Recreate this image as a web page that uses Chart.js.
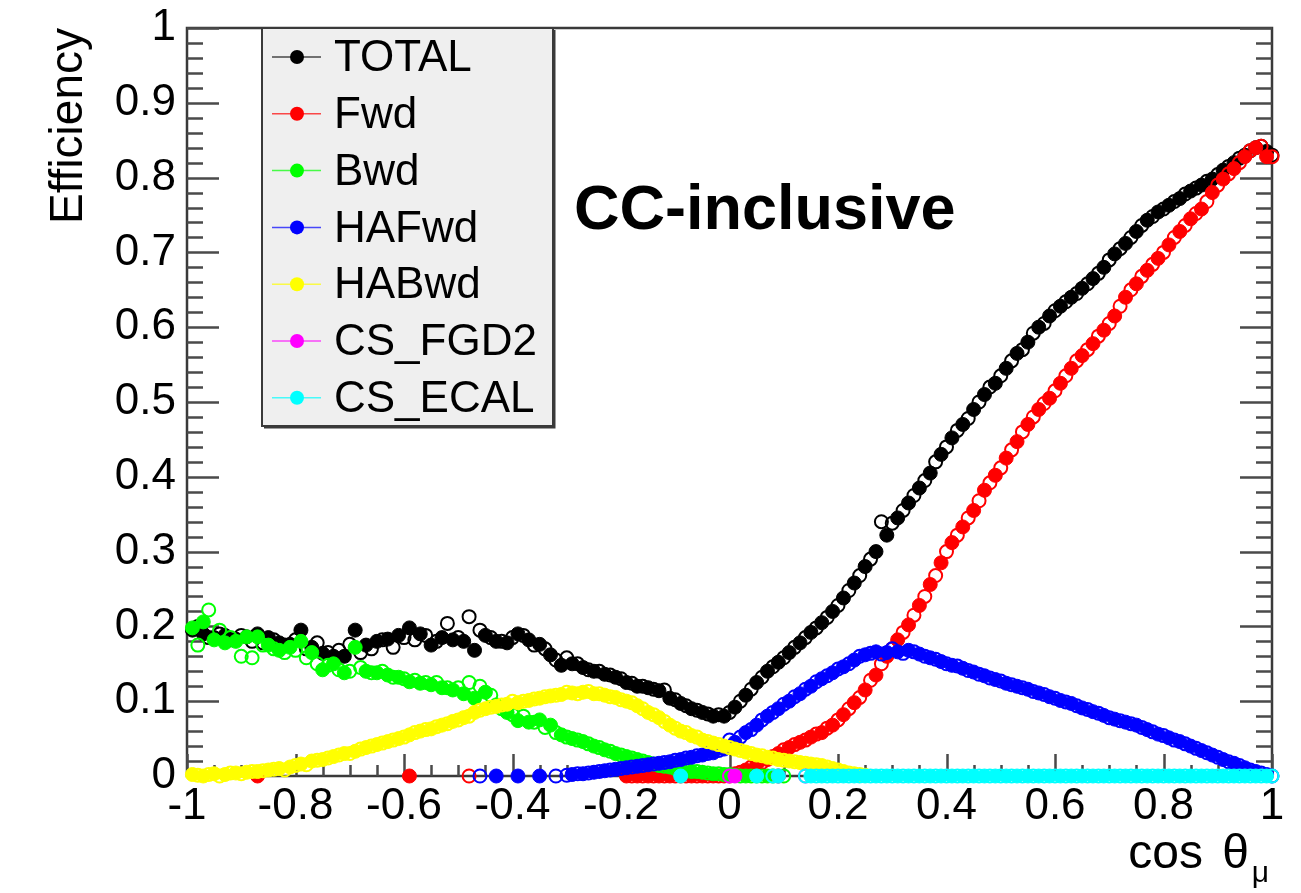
<!DOCTYPE html>
<html>
<head>
<meta charset="utf-8">
<title>CC-inclusive efficiency</title>
<script src="https://cdn.jsdelivr.net/npm/chart.js@4.4.0/dist/chart.umd.min.js"></script>
<style>
    html, body { margin: 0; padding: 0; background: #ffffff; }
    #wrap { position: relative; width: 1301px; height: 893px; }
</style>
</head>
<body>
<div id="wrap"><canvas id="graficoEficiencia" width="1301" height="893"></canvas></div>
<script>
// bin centres of the two samples (filled markers / open markers)
const binsFilled = [
    -0.99, -0.97, -0.95, -0.93, -0.91, -0.89, -0.87, -0.85, -0.83, -0.81,
    -0.79, -0.77, -0.75, -0.73, -0.71, -0.69, -0.67, -0.65, -0.63, -0.61,
    -0.59, -0.57, -0.55, -0.53, -0.51, -0.49, -0.47, -0.45, -0.43, -0.41,
    -0.39, -0.37, -0.35, -0.33, -0.31, -0.29, -0.27, -0.25, -0.23, -0.21,
    -0.19, -0.17, -0.15, -0.13, -0.11, -0.09, -0.07, -0.05, -0.03, -0.01,
    0.01, 0.03, 0.05, 0.07, 0.09, 0.11, 0.13, 0.15, 0.17, 0.19,
    0.21, 0.23, 0.25, 0.27, 0.29, 0.31, 0.33, 0.35, 0.37, 0.39,
    0.41, 0.43, 0.45, 0.47, 0.49, 0.51, 0.53, 0.55, 0.57, 0.59,
    0.61, 0.63, 0.65, 0.67, 0.69, 0.71, 0.73, 0.75, 0.77, 0.79,
    0.81, 0.83, 0.85, 0.87, 0.89, 0.91, 0.93, 0.95, 0.97, 0.99
];
const binsOpen = [
    -0.98, -0.96, -0.94, -0.92, -0.90, -0.88, -0.86, -0.84, -0.82, -0.80,
    -0.78, -0.76, -0.74, -0.72, -0.70, -0.68, -0.66, -0.64, -0.62, -0.60,
    -0.58, -0.56, -0.54, -0.52, -0.50, -0.48, -0.46, -0.44, -0.42, -0.40,
    -0.38, -0.36, -0.34, -0.32, -0.30, -0.28, -0.26, -0.24, -0.22, -0.20,
    -0.18, -0.16, -0.14, -0.12, -0.10, -0.08, -0.06, -0.04, -0.02, 0.00,
    0.02, 0.04, 0.06, 0.08, 0.10, 0.12, 0.14, 0.16, 0.18, 0.20,
    0.22, 0.24, 0.26, 0.28, 0.30, 0.32, 0.34, 0.36, 0.38, 0.40,
    0.42, 0.44, 0.46, 0.48, 0.50, 0.52, 0.54, 0.56, 0.58, 0.60,
    0.62, 0.64, 0.66, 0.68, 0.70, 0.72, 0.74, 0.76, 0.78, 0.80,
    0.82, 0.84, 0.86, 0.88, 0.90, 0.92, 0.94, 0.96, 0.98, 1.00
];

const seriesNames = ['TOTAL', 'Fwd', 'Bwd', 'HAFwd', 'HABwd', 'CS_FGD2', 'CS_ECAL'];
const seriesColors = ['#000000', '#ff0000', '#00ff00', '#0000ff', '#ffff00', '#ff00ff', '#00ffff'];

const xTickValues = [-1, -0.8, -0.6, -0.4, -0.2, 0, 0.2, 0.4, 0.6, 0.8, 1];
const yTickValues = [0, 0.1, 0.2, 0.3, 0.4, 0.5, 0.6, 0.7, 0.8, 0.9, 1];

const totalFilled = [
    0.195, 0.190, 0.185, 0.188, 0.183, 0.186, 0.190, 0.185, 0.178, 0.176,
    0.195, 0.172, 0.164, 0.160, 0.160, 0.195, 0.175, 0.180, 0.183, 0.188,
    0.198, 0.190, 0.175, 0.185, 0.182, 0.180, 0.168, 0.188, 0.180, 0.178,
    0.190, 0.182, 0.176, 0.162, 0.148, 0.150, 0.145, 0.140, 0.136, 0.132,
    0.125, 0.120, 0.118, 0.114, 0.104, 0.097, 0.090, 0.085, 0.080, 0.080,
    0.092, 0.108, 0.125, 0.140, 0.152, 0.165, 0.178, 0.192, 0.205, 0.220,
    0.238, 0.258, 0.280, 0.300, 0.322, 0.345, 0.365, 0.385, 0.405, 0.430,
    0.452, 0.470, 0.490, 0.510, 0.525, 0.545, 0.565, 0.580, 0.600, 0.615,
    0.628, 0.640, 0.652, 0.665, 0.680, 0.698, 0.712, 0.728, 0.743, 0.754,
    0.763, 0.772, 0.782, 0.790, 0.798, 0.810, 0.820, 0.830, 0.840, 0.835
];
const totalOpen = [
    0.200, 0.185, 0.190, 0.182, 0.188, 0.180, 0.178, 0.182, 0.175, 0.182,
    0.170, 0.178, 0.165, 0.168, 0.176, 0.165, 0.170, 0.182, 0.172, 0.185,
    0.182, 0.188, 0.180, 0.204, 0.185, 0.213, 0.195, 0.185, 0.180, 0.185,
    0.188, 0.175, 0.170, 0.155, 0.158, 0.150, 0.142, 0.140, 0.135, 0.130,
    0.124, 0.120, 0.116, 0.115, 0.102, 0.094, 0.088, 0.083, 0.082, 0.085,
    0.100, 0.116, 0.132, 0.146, 0.158, 0.172, 0.185, 0.198, 0.212, 0.228,
    0.248, 0.268, 0.290, 0.340, 0.338, 0.355, 0.375, 0.395, 0.420, 0.440,
    0.462, 0.478, 0.500, 0.520, 0.535, 0.555, 0.570, 0.592, 0.605, 0.622,
    0.634, 0.645, 0.658, 0.672, 0.690, 0.705, 0.720, 0.736, 0.748, 0.758,
    0.768, 0.778, 0.786, 0.795, 0.804, 0.815, 0.826, 0.836, 0.842, 0.830
];

const fwdFilled = [
    null, null, null, null, null, null, 0, null, null, null,
    null, null, null, null, null, null, null, null, null, null,
    0, null, null, null, null, null, null, null, null, null,
    null, null, null, null, null, null, null, null, null, null,
    0, 0, 0, 0, 0, 0, 0, 0, 0, 0,
    0.003, 0.008, 0.015, 0.022, 0.030, 0.038, 0.045, 0.052, 0.058, 0.068,
    0.082, 0.098, 0.115, 0.135, 0.160, 0.182, 0.202, 0.228, 0.256, 0.285,
    0.312, 0.333, 0.355, 0.382, 0.402, 0.425, 0.447, 0.470, 0.490, 0.505,
    0.525, 0.545, 0.562, 0.578, 0.596, 0.615, 0.640, 0.658, 0.676, 0.692,
    0.710, 0.728, 0.745, 0.758, 0.780, 0.798, 0.812, 0.828, 0.840, 0.828
];
const fwdOpen = [
    null, null, null, null, null, null, null, null, null, null,
    null, null, null, null, null, null, null, null, null, null,
    null, null, null, null, null, 0, null, null, null, null,
    null, null, null, null, null, null, null, null, null, null,
    0, 0, 0, 0, 0, 0, 0, 0, 0, 0,
    0.005, 0.012, 0.018, 0.026, 0.035, 0.042, 0.048, 0.056, 0.064, 0.075,
    0.090, 0.105, 0.128, 0.150, 0.170, 0.192, 0.215, 0.240, 0.268, 0.300,
    0.322, 0.345, 0.368, 0.392, 0.412, 0.436, 0.460, 0.480, 0.498, 0.515,
    0.535, 0.555, 0.570, 0.588, 0.605, 0.628, 0.650, 0.668, 0.684, 0.700,
    0.720, 0.736, 0.752, 0.768, 0.790, 0.805, 0.820, 0.836, 0.842, 0.828
];

const bwdFilled = [
    0.198, 0.206, 0.182, 0.178, 0.180, 0.186, 0.186, 0.175, 0.168, 0.172,
    0.180, 0.165, 0.142, 0.150, 0.138, 0.172, 0.140, 0.138, 0.135, 0.132,
    0.126, 0.124, 0.122, 0.118, 0.115, 0.110, 0.104, 0.112, 0.095, 0.085,
    0.074, 0.072, 0.075, 0.068, 0.055, 0.050, 0.046, 0.040, 0.035, 0.030,
    0.026, 0.022, 0.018, 0.014, 0.012, 0.009, 0.006, 0.005, 0.003, 0.002,
    0.001, 0, 0, 0, 0, null, null, null, null, null,
    null, null, null, null, null, null, null, null, null, null,
    null, null, null, null, null, null, null, null, null, null,
    null, null, null, null, null, null, null, null, null, null,
    null, null, null, null, null, null, null, null, null, null
];
const bwdOpen = [
    0.175, 0.222, 0.195, 0.185, 0.160, 0.158, 0.175, 0.170, 0.165, 0.168,
    0.158, 0.150, 0.148, 0.142, 0.140, 0.145, 0.138, 0.140, 0.132, 0.130,
    0.128, 0.125, 0.125, 0.118, 0.118, 0.125, 0.120, 0.108, 0.090, 0.082,
    0.080, 0.072, 0.065, 0.058, 0.052, 0.048, 0.043, 0.038, 0.033, 0.028,
    0.024, 0.020, 0.016, 0.013, 0.010, 0.008, 0.006, 0.004, 0.003, 0.002,
    0, 0, 0, 0, 0, null, null, null, null, null,
    null, null, null, null, null, null, null, null, null, null,
    null, null, null, null, null, null, null, null, null, null,
    null, null, null, null, null, null, null, null, null, null,
    null, null, null, null, null, null, null, null, null, null
];

const haFwdFilled = [
    null, null, null, null, null, null, null, null, null, null,
    null, null, null, null, null, null, null, null, null, null,
    null, null, null, null, null, null, null, null, 0, null,
    0, null, 0, null, null, 0.002, 0.003, 0.005, 0.007, 0.009,
    0.011, 0.013, 0.015, 0.017, 0.019, 0.022, 0.025, 0.028, 0.031, 0.036,
    0.045, 0.058, 0.068, 0.080, 0.090, 0.100, 0.110, 0.120, 0.130, 0.138,
    0.146, 0.155, 0.162, 0.166, 0.165, 0.166, 0.168, 0.163, 0.158, 0.153,
    0.148, 0.144, 0.139, 0.134, 0.129, 0.124, 0.120, 0.116, 0.111, 0.106,
    0.101, 0.097, 0.091, 0.086, 0.081, 0.076, 0.072, 0.068, 0.062, 0.056,
    0.051, 0.046, 0.040, 0.034, 0.028, 0.022, 0.017, 0.011, 0.006, 0.002
];
const haFwdOpen = [
    null, null, null, null, null, null, null, null, null, null,
    null, null, null, null, null, null, null, null, null, null,
    null, null, null, null, null, null, 0, null, null, null,
    null, null, null, 0, 0.001, 0.003, 0.004, 0.006, 0.008, 0.010,
    0.012, 0.014, 0.016, 0.018, 0.021, 0.024, 0.027, 0.030, 0.034, 0.048,
    0.052, 0.062, 0.075, 0.085, 0.096, 0.106, 0.116, 0.126, 0.134, 0.143,
    0.150, 0.160, 0.164, 0.163, 0.170, 0.164, 0.166, 0.160, 0.156, 0.150,
    0.147, 0.141, 0.136, 0.131, 0.127, 0.122, 0.118, 0.113, 0.109, 0.104,
    0.099, 0.094, 0.089, 0.084, 0.078, 0.074, 0.070, 0.065, 0.059, 0.054,
    0.048, 0.043, 0.037, 0.031, 0.025, 0.019, 0.014, 0.008, 0.004, 0.000
];

const haBwdFilled = [
    0.002, 0.000, 0.003, 0.002, 0.004, 0.005, 0.006, 0.008, 0.010, 0.012,
    0.016, 0.020, 0.022, 0.026, 0.030, 0.033, 0.038, 0.042, 0.046, 0.050,
    0.055, 0.060, 0.063, 0.068, 0.073, 0.078, 0.085, 0.090, 0.093, 0.096,
    0.098, 0.101, 0.104, 0.107, 0.109, 0.111, 0.112, 0.110, 0.108, 0.105,
    0.100, 0.094, 0.085, 0.078, 0.068, 0.060, 0.054, 0.048, 0.044, 0.040,
    0.036, 0.032, 0.028, 0.025, 0.022, 0.020, 0.018, 0.016, 0.014, 0.010,
    0.006, 0.003, 0.001, null, null, null, null, null, null, null,
    null, null, null, null, null, null, null, null, null, null,
    null, null, null, null, null, null, null, null, null, null,
    null, null, null, null, null, null, null, null, null, null
];
const haBwdOpen = [
    0.001, 0.002, 0.000, 0.004, 0.003, 0.006, 0.007, 0.009, 0.008, 0.014,
    0.015, 0.021, 0.024, 0.028, 0.030, 0.036, 0.040, 0.044, 0.048, 0.052,
    0.058, 0.062, 0.066, 0.070, 0.075, 0.080, 0.088, 0.092, 0.095, 0.100,
    0.100, 0.103, 0.106, 0.108, 0.112, 0.110, 0.113, 0.110, 0.106, 0.102,
    0.098, 0.090, 0.082, 0.073, 0.064, 0.058, 0.052, 0.046, 0.042, 0.038,
    0.034, 0.030, 0.027, 0.024, 0.021, 0.019, 0.017, 0.015, 0.012, 0.008,
    0.004, 0.002, null, null, null, null, null, null, null, null,
    null, null, null, null, null, null, null, null, null, null,
    null, null, null, null, null, null, null, null, null, null,
    null, null, null, null, null, null, null, null, null, null
];

const csFgd2Filled = [
    null, null, null, null, null, null, null, null, null, null,
    null, null, null, null, null, null, null, null, null, null,
    null, null, null, null, null, null, null, null, null, null,
    null, null, null, null, null, null, null, null, null, null,
    null, null, null, null, null, null, null, null, null, null,
    0, null, null, null, 0, null, null, null, null, null,
    null, null, null, null, null, null, null, null, null, null,
    null, null, null, null, null, null, null, null, null, null,
    null, null, null, null, null, null, null, null, null, null,
    null, null, null, null, null, null, null, null, null, null
];
const csFgd2Open = [
    null, null, null, null, null, null, null, null, null, null,
    null, null, null, null, null, null, null, null, null, null,
    null, null, null, null, null, null, null, null, null, null,
    null, null, null, null, null, null, null, null, null, null,
    null, null, null, null, null, null, null, null, null, 0,
    null, null, null, null, null, null, 0, null, null, null,
    null, null, null, null, null, null, null, null, null, null,
    null, null, null, null, null, null, null, null, null, null,
    null, null, null, null, null, null, null, null, null, null,
    null, null, null, null, null, null, null, null, null, null
];

const csEcalFilled = [
    null, null, null, null, null, null, null, null, null, null,
    null, null, null, null, null, null, null, null, null, null,
    null, null, null, null, null, null, null, null, null, null,
    null, null, null, null, null, null, null, null, null, null,
    null, null, null, null, null, 0, null, null, null, null,
    null, null, 0, null, 0, null, null, 0, 0, 0,
    0, 0, 0, 0, 0, 0, 0, 0, 0, 0,
    0, 0, 0, 0, 0, 0, 0, 0, 0, 0,
    0, 0, 0, 0, 0, 0, 0, 0, 0, 0,
    0, 0, 0, 0, 0, 0, 0, 0, 0, 0
];
const csEcalOpen = [
    null, null, null, null, null, null, null, null, null, null,
    null, null, null, null, null, null, null, null, null, null,
    null, null, null, null, null, null, null, null, null, null,
    null, null, null, null, null, null, null, null, null, null,
    null, null, null, null, null, null, null, null, null, null,
    null, null, null, 0, null, null, 0, 0, 0, 0,
    0, 0, 0, 0, 0, 0, 0, 0, 0, 0,
    0, 0, 0, 0, 0, 0, 0, 0, 0, 0,
    0, 0, 0, 0, 0, 0, 0, 0, 0, 0,
    0, 0, 0, 0, 0, 0, 0, 0, 0, 0
];

const filledSeries = [totalFilled, fwdFilled, bwdFilled, haFwdFilled, haBwdFilled, csFgd2Filled, csEcalFilled];
const openSeries = [totalOpen, fwdOpen, bwdOpen, haFwdOpen, haBwdOpen, csFgd2Open, csEcalOpen];

const fonte = '"Liberation Sans", Arial, Helvetica, sans-serif';
const raioMarcador = 7;

function pontos(bins, valores) {
    return valores.map(function (v, i) { return { x: bins[i], y: v }; });
}

function formataTick(v) {
    return String(+Number(v).toFixed(2));
}

// datasets: filled sample then open sample for every selection
var datasets = [];
for (var k = 0; k < seriesNames.length; k++) {
    datasets.push({
        label: seriesNames[k],
        data: pontos(binsFilled, filledSeries[k]),
        pointRadius: raioMarcador,
        pointHoverRadius: raioMarcador,
        pointBorderWidth: 1,
        pointBackgroundColor: seriesColors[k],
        pointBorderColor: seriesColors[k],
        borderColor: seriesColors[k],
        backgroundColor: seriesColors[k],
        showLine: false,
        clip: false,
        order: 100 - 2 * k
    });
    datasets.push({
        label: seriesNames[k] + ' (open)',
        data: pontos(binsOpen, openSeries[k]),
        pointRadius: raioMarcador - 0.5,
        pointHoverRadius: raioMarcador - 0.5,
        pointBorderWidth: 2,
        pointBackgroundColor: 'rgba(0,0,0,0)',
        pointBorderColor: seriesColors[k],
        borderColor: seriesColors[k],
        backgroundColor: 'rgba(0,0,0,0)',
        showLine: false,
        clip: false,
        order: 99 - 2 * k
    });
}

// ROOT-like frame with inward ticks, drawn under the markers
const molduraPlugin = {
    id: 'moldura',
    beforeDatasetsDraw(chart) {
        const ctx = chart.ctx;
        const area = chart.chartArea;
        const sx = chart.scales.x;
        const sy = chart.scales.y;
        ctx.save();
        ctx.strokeStyle = '#3a3a3a';
        ctx.lineWidth = 2.5;
        ctx.strokeRect(area.left, area.top, area.right - area.left, area.bottom - area.top);

        ctx.strokeStyle = '#4a4a4a';
        ctx.lineWidth = 2.5;
        ctx.beginPath();
        for (var i = 0; i <= 50; i++) {
            var py = Math.round(sy.getPixelForValue(i / 50)) + 0.5;
            var len = (i % 5 === 0) ? 32 : 16;
            ctx.moveTo(area.left, py);
            ctx.lineTo(area.left + len, py);
            ctx.moveTo(area.right, py);
            ctx.lineTo(area.right - len, py);
        }
        for (var j = 0; j <= 40; j++) {
            var px = Math.round(sx.getPixelForValue(-1 + j * 0.05)) + 0.5;
            var lenx = (j % 4 === 0) ? 22 : 11;
            ctx.moveTo(px, area.bottom);
            ctx.lineTo(px, area.bottom - lenx);
        }
        ctx.stroke();
        ctx.restore();
    },
    afterDraw(chart) {
        const ctx = chart.ctx;
        ctx.save();

        // axis titles
        ctx.fillStyle = '#000';
        ctx.font = '46px ' + fonte;
        ctx.save();
        ctx.translate(82, 28);
        ctx.rotate(-Math.PI / 2);
        ctx.textAlign = 'right';
        ctx.textBaseline = 'alphabetic';
        ctx.fillText('Efficiency', 0, 0);
        ctx.restore();

        ctx.textAlign = 'right';
        ctx.textBaseline = 'alphabetic';
        ctx.font = '30px ' + fonte;
        ctx.fillText('\u03bc', 1269, 882);
        ctx.font = '48px ' + fonte;
        ctx.fillText('\u03b8', 1249, 868);
        ctx.fillText('cos', 1203, 868);

        // label inside the frame
        ctx.textAlign = 'left';
        ctx.font = 'bold 63px ' + fonte;
        ctx.fillText('CC-inclusive', 574, 229);

        // legend box
        var lx = 262, ly = 28, lw = 291, lh = 398;
        ctx.fillStyle = '#efefef';
        ctx.fillRect(lx, ly, lw, lh);
        ctx.strokeStyle = '#3a3a3a';
        ctx.lineWidth = 2;
        ctx.strokeRect(lx, ly, lw, lh);
        ctx.lineWidth = 3;
        ctx.beginPath();
        ctx.moveTo(lx + lw + 1, ly + 2);
        ctx.lineTo(lx + lw + 1, ly + lh + 1);
        ctx.lineTo(lx + 2, ly + lh + 1);
        ctx.stroke();

        ctx.font = '44px ' + fonte;
        ctx.textBaseline = 'middle';
        for (var k = 0; k < seriesNames.length; k++) {
            var ds = chart.data.datasets[2 * k];
            var cy = 57 + k * 56.8;
            ctx.strokeStyle = ds.pointBorderColor;
            ctx.globalAlpha = 0.7;
            ctx.lineWidth = 1.5;
            ctx.beginPath();
            ctx.moveTo(272, cy);
            ctx.lineTo(321, cy);
            ctx.stroke();
            ctx.globalAlpha = 1;
            ctx.fillStyle = ds.pointBackgroundColor;
            ctx.beginPath();
            ctx.arc(297, cy, 7, 0, Math.PI * 2);
            ctx.fill();
            ctx.fillStyle = '#000';
            ctx.fillText(ds.label, 334, cy + 2);
        }
        ctx.restore();
    }
};

var configuracao = {
    type: 'scatter',
    data: { datasets: datasets },
    options: {
        responsive: false,
        animation: false,
        devicePixelRatio: 1,
        events: [],
        layout: { padding: { top: 28, right: 29, left: 0, bottom: 0 } },
        plugins: {
            legend: { display: false },
            tooltip: { enabled: false }
        },
        scales: {
            x: {
                type: 'linear',
                min: -1,
                max: 1,
                grid: { display: false, drawTicks: false },
                border: { display: false },
                afterBuildTicks: function (scale) {
                    scale.ticks = xTickValues.map(function (v) { return { value: v }; });
                },
                afterFit: function (scale) {
                    scale.height = 117;
                    scale.paddingLeft = 0;
                    scale.paddingRight = 0;
                },
                ticks: {
                    autoSkip: false,
                    maxRotation: 0,
                    padding: 4,
                    color: '#000',
                    font: { family: fonte, size: 44 },
                    callback: formataTick
                }
            },
            y: {
                type: 'linear',
                min: 0,
                max: 1,
                grid: { display: false, drawTicks: false },
                border: { display: false },
                afterBuildTicks: function (scale) {
                    scale.ticks = yTickValues.map(function (v) { return { value: v }; });
                },
                afterFit: function (scale) {
                    scale.width = 187;
                    scale.paddingTop = 0;
                    scale.paddingBottom = 0;
                },
                ticks: {
                    autoSkip: false,
                    padding: 11,
                    color: '#000',
                    font: { family: fonte, size: 44 },
                    callback: formataTick
                }
            }
        }
    },
    plugins: [molduraPlugin]
};

var graficoEficiencia = new Chart(document.getElementById('graficoEficiencia'), configuracao);
</script>
</body>
</html>
